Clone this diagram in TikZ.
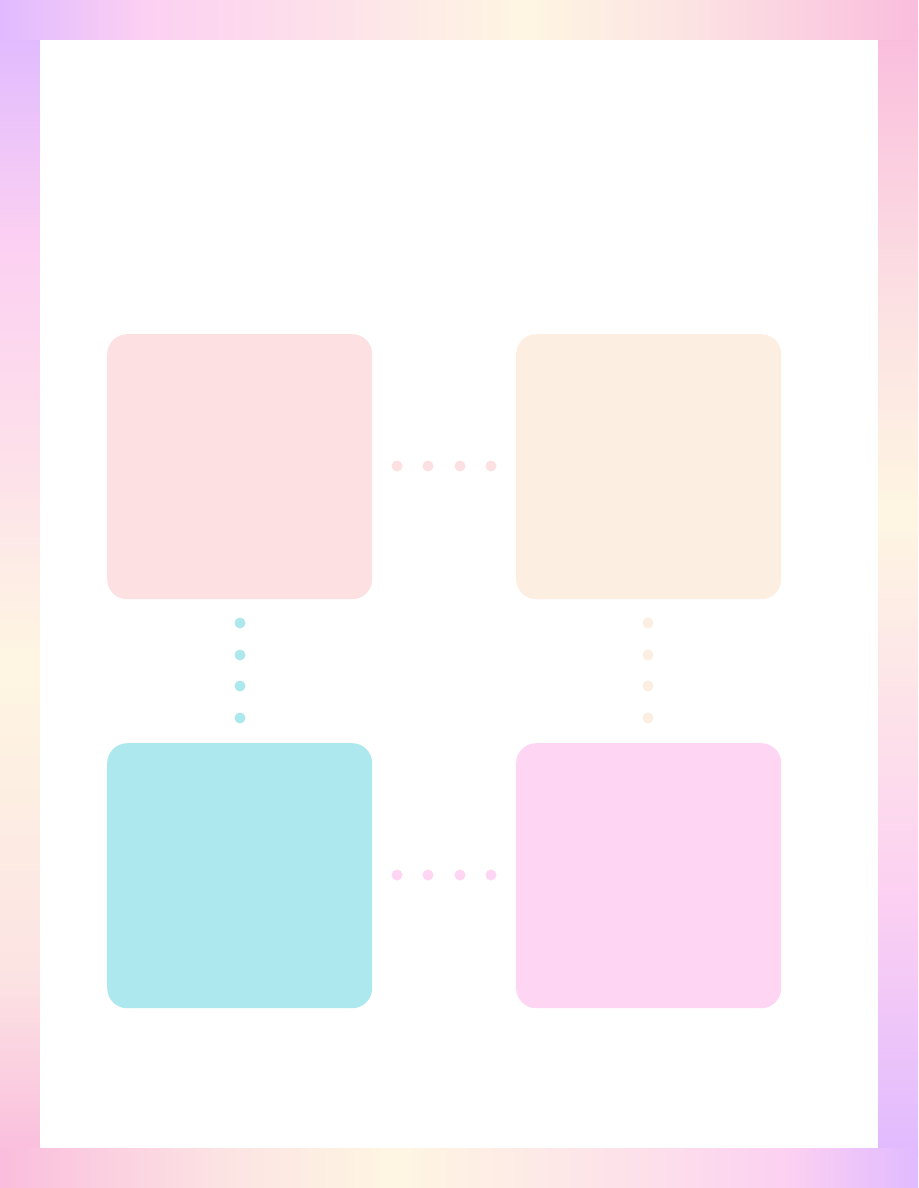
\documentclass[tikz,border=0pt]{standalone}
\usetikzlibrary{shadings}
\definecolor{cPurple}{HTML}{E0BAFF}
\definecolor{cPinkA}{HTML}{FCD0F2}
\definecolor{cPinkB}{HTML}{FDE0EA}
\definecolor{cCream}{HTML}{FEF6E2}
\definecolor{cPeach}{HTML}{FCE3E3}
\definecolor{cPinkC}{HTML}{FABDDD}
\definecolor{boxRose}{HTML}{FCE0E2}
\definecolor{boxPeach}{HTML}{FDEEE2}
\definecolor{boxCyan}{HTML}{AEE8EF}
\definecolor{boxPink}{HTML}{FED5F3}
\pgfdeclarehorizontalshading{topshade}{100bp}{color(0bp)=(cPurple); color(25bp)=(cPurple); color(33bp)=(cPinkA); color(42.5bp)=(cPinkB); color(53.5bp)=(cCream); color(62.5bp)=(cPeach); color(75bp)=(cPinkC); color(100bp)=(cPinkC)}
\pgfdeclarehorizontalshading{bottomshade}{100bp}{color(0bp)=(cPinkC); color(25bp)=(cPinkC); color(37bp)=(cPeach); color(46.5bp)=(cCream); color(60bp)=(cPinkB); color(68bp)=(cPinkA); color(75bp)=(cPurple); color(100bp)=(cPurple)}
\pgfdeclareverticalshading{leftshade}{100bp}{color(0bp)=(cPinkC); color(25bp)=(cPinkC); color(33bp)=(cPeach); color(47bp)=(cCream); color(56bp)=(cPinkB); color(65.5bp)=(cPinkA); color(75bp)=(cPurple); color(100bp)=(cPurple)}
\pgfdeclareverticalshading{rightshade}{100bp}{color(0bp)=(cPurple); color(25bp)=(cPurple); color(36.5bp)=(cPinkA); color(44bp)=(cPinkB); color(53.5bp)=(cCream); color(62bp)=(cPeach); color(75bp)=(cPinkC); color(100bp)=(cPinkC)}
\tikzset{
  panel/.style={rounded corners=20pt, inner sep=0pt, minimum width=265pt, minimum height=265pt, anchor=north west},
  dotmark/.style={circle, inner sep=0pt, minimum size=11pt}
}
\begin{document}
\begin{tikzpicture}[x=1pt,y=-1pt]
\useasboundingbox (0,0) rectangle (918,1188);
\fill[white] (0,0) rectangle (918,1188);
% gradient frame
\shade[shading=leftshade] (0,30) rectangle (40,1158);
\shade[shading=rightshade] (878,30) rectangle (918,1158);
\shade[shading=topshade] (0,0) rectangle (918,40);
\shade[shading=bottomshade] (0,1148) rectangle (918,1188);
\fill[white] (40,40) rectangle (878,1148);
% panels
\node[panel, fill=boxRose] (tl) at (107,334) {};
\node[panel, fill=boxPeach] (tr) at (516,334) {};
\node[panel, fill=boxCyan] (bl) at (107,743) {};
\node[panel, fill=boxPink] (br) at (516,743) {};
% dotted links
\foreach \i/\x in {1/397,2/428,3/460,4/491} {
  \node[dotmark, fill=boxRose] (ht\i) at (\x,466) {};
  \node[dotmark, fill=boxPink] (hb\i) at (\x,875) {};
}
\foreach \i/\y in {1/623,2/655,3/686,4/718} {
  \node[dotmark, fill=boxCyan] (vl\i) at (240,\y) {};
  \node[dotmark, fill=boxPeach] (vr\i) at (648,\y) {};
}
\end{tikzpicture}
\end{document}
